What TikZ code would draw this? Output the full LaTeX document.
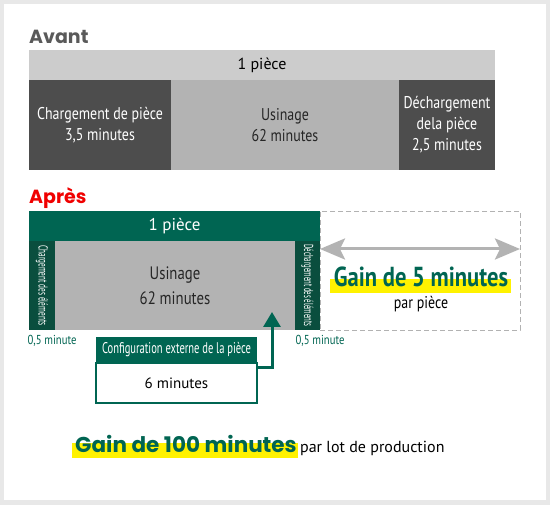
\documentclass[tikz,border=0pt]{standalone}
\usepackage{fontspec}
\usepackage{graphicx}
\usetikzlibrary{arrows.meta,
                positioning,
                backgrounds}
\newfontfamily\condfont{PT Sans}[FakeStretch=0.82]
\newfontfamily\narrowfont{PT Sans}[FakeStretch=0.68]
\newfontfamily\plainfont{PT Sans}
\newfontfamily\headfont{Poppins}
\definecolor{darkslot}{RGB}{77,77,77}
\definecolor{midslot}{RGB}{179,179,179}
\definecolor{lightbar}{RGB}{204,204,204}
\definecolor{firgreen}{RGB}{0,101,82}
\definecolor{deepgreen}{RGB}{10,78,62}
\definecolor{marker}{RGB}{255,242,0}
\definecolor{titlegray}{RGB}{90,90,90}
\definecolor{titlered}{RGB}{240,0,0}
\newcommand{\striplabel}[2]{\rotatebox{-90}{\resizebox{#1}{\height}{#2}}}

\begin{document}
\begin{tikzpicture}[x=1pt, y=-1pt,
            base/.style = {anchor=north west, inner sep=0pt, outer sep=0pt,
                    align=center, font=\condfont\fontsize{17}{21}\selectfont},
            bar/.style = {base, minimum height=30pt},
            slot/.style = {base, minimum height=90pt},
            strip/.style = {base, fill=deepgreen, text=white, minimum height=89pt,
                    font=\condfont\fontsize{13}{13}\selectfont},
            title/.style = {anchor=base west, inner sep=0pt,
                    font=\headfont\bfseries\fontsize{19}{19}\selectfont},
            note/.style = {anchor=base, inner sep=0pt, text=firgreen,
                    font=\condfont\fontsize{13}{13}\selectfont}]

        \begin{scope}[on background layer]
        \fill[gray!18] (0,0) rectangle (550,505);
        \fill[white] (4,4) rectangle (546,500);
        \end{scope}
        \useasboundingbox (0,0) rectangle (550,505);

        % Avant
        \node [title, text=titlegray] (avant) at (29,44) {Avant};
        \node [bar, fill=lightbar, minimum width=466pt,
               font=\plainfont\fontsize{16}{16}\selectfont] (piece1) at (29,50) {1 pièce};
        \node [slot, fill=darkslot, text=white, minimum width=142pt] (load1) at (29,80)
              {Chargement de pièce\\3,5 minutes};
        \node [slot, fill=midslot, text=black!85, minimum width=228pt,
               right=0pt of load1] (mach1) {Usinage\\62 minutes};
        \node [slot, fill=darkslot, text=white, minimum width=96pt,
               right=0pt of mach1] (unload1) {Déchargement\\dela pièce\\2,5 minutes};

        % Apres
        \node [title, text=titlered] (apres) at (29,204) {Après};
        \node [bar, fill=firgreen, text=white, minimum width=291pt,
               font=\plainfont\fontsize{17}{17}\selectfont] (piece2) at (29,211) {1 pièce};
        \node [strip, minimum width=26pt] (load2) at (29,241)
              {\striplabel{80pt}{Chargement des éléments}};
        \node [slot, fill=midslot, text=black!85, minimum width=240pt, minimum height=89pt,
               font=\condfont\fontsize{18}{25}\selectfont,
               right=0pt of load2] (mach2) {Usinage\\62 minutes};
        \node [strip, minimum width=25pt, right=0pt of mach2] (unload2)
              {\striplabel{82pt}{Déchargement des éléments}};
        \node [note] (note1) at (52,345) {0,5 minute};
        \node [note] (note2) at (320,345) {0,5 minute};

        % Gain
        \node [base, draw=gray!60, dash pattern=on 5pt off 3pt, minimum width=200pt,
               minimum height=119pt] (spare) at (piece2.north east) {};
        \draw [midslot, line width=3pt,
               {Stealth[length=25pt, width=21pt, inset=5pt]}-{Stealth[length=25pt, width=21pt, inset=5pt]}]
              ([yshift=-38pt]spare.north west) -- ([yshift=-38pt]spare.north east);
        \node [anchor=base, inner sep=0pt, text=firgreen,
               font=\condfont\bfseries\fontsize{27.5}{27.5}\selectfont] (gain5) at (421,287)
              {Gain de 5 minutes};
        \node [anchor=base, inner sep=0pt,
               font=\condfont\fontsize{17}{17}\selectfont] (perpiece) at (421,309) {par pièce};

        % Configuration
        \node [base, fill=firgreen, text=white, minimum width=161pt, minimum height=26pt,
               font=\narrowfont\fontsize{15.5}{15.5}\selectfont] (cfghead) at (96,337)
              {Configuration externe de la pièce};
        \node [base, draw=firgreen, line width=2pt, minimum width=161pt, minimum height=40pt,
               font=\plainfont\fontsize{15}{15}\selectfont,
               below=0pt of cfghead] (cfgbody) {6 minutes};
        \draw [firgreen, line width=3pt, -{Triangle[length=15pt, width=17pt]}]
              ([yshift=-5pt]cfgbody.north east) -| ([xshift=-23pt, yshift=18pt]mach2.south east);

        % Bottom
        \node [anchor=base west, inner sep=0pt, text=firgreen,
               font=\headfont\bfseries\fontsize{21.5}{21.5}\selectfont] (gain100) at (75,453)
              {Gain de 100 minutes};
        \node [anchor=base west, inner sep=0pt,
               font=\plainfont\fontsize{16}{16}\selectfont] (perlot)
              at ([xshift=3pt]gain100.base east) {par lot de production};
        %%
        \begin{scope}[on background layer]
        \fill[marker] ([xshift=-4pt, yshift=8pt]gain5.base west)
              rectangle ([xshift=3pt, yshift=-6pt]gain5.base east);
        \fill[marker] ([xshift=-3pt, yshift=10pt]gain100.base west)
              rectangle ([xshift=1pt, yshift=-5pt]gain100.base east);
        \end{scope}
    \end{tikzpicture}
\end{document}
